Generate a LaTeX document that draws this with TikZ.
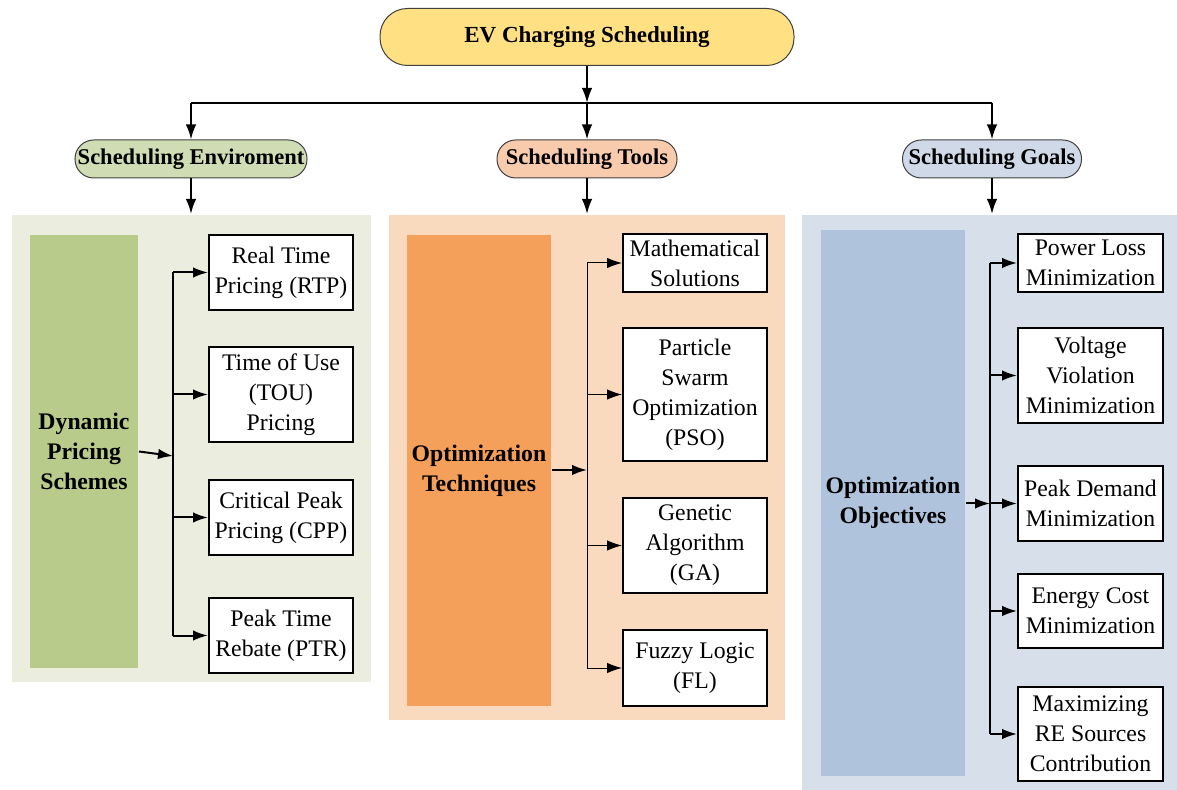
\documentclass[tikz,border=0pt]{standalone}
\usepackage{fontspec}
\setmainfont{Liberation Serif}
\usepackage{tikz}
\usetikzlibrary{arrows.meta}

\definecolor{topfill}{RGB}{255,224,130}
\definecolor{envfill}{RGB}{208,221,180}
\definecolor{envbg}{RGB}{235,238,223}
\definecolor{envbar}{RGB}{184,203,138}
\definecolor{toolfill}{RGB}{248,203,173}
\definecolor{toolbg}{RGB}{250,218,190}
\definecolor{toolbar}{RGB}{245,160,90}
\definecolor{goalfill}{RGB}{207,217,232}
\definecolor{goalbg}{RGB}{214,223,234}
\definecolor{goalbar}{RGB}{175,195,220}

\begin{document}
\begin{tikzpicture}[x=0.4pt,y=-0.4pt,>={Latex[length=6pt,width=4.2pt]},line width=0.8pt,
    head/.style={draw=black!75,line width=0.4pt,rounded corners=7.5pt,minimum height=15.2pt,
        inner sep=0pt,font=\fontsize{9}{11}\selectfont\bfseries},
    panel/.style={inner sep=0pt,minimum width=#1},
    bar/.style={inner sep=0pt,minimum width=57.6pt,align=center,
        font=\fontsize{9.5}{12}\selectfont\bfseries},
    leaf/.style={draw,line width=0.8pt,fill=white,inner sep=0pt,minimum width=57.6pt,
        align=center,font=\fontsize{9.5}{12}\selectfont}]
        \useasboundingbox (0,0) rectangle (1177,790);

        % top level
        \node[head,fill=topfill,minimum width=165.6pt,minimum height=22.8pt,rounded corners=11pt,
            font=\fontsize{9.2}{11}\selectfont\bfseries] (ev) at (587,37) {EV Charging Scheduling};
        \coordinate (split) at (587,103);
        \node[head,fill=envfill,minimum width=92.8pt] (env) at (191,159) {Scheduling Enviroment};
        \node[head,fill=toolfill,minimum width=72pt] (tools) at (587,159) {Scheduling Tools};
        \node[head,fill=goalfill,minimum width=71.6pt] (goals) at (992,159) {Scheduling Goals};

        % panels
        \node[panel=143.6pt,minimum height=186.8pt,fill=envbg] (envp) at (191.5,448.5) {};
        \node[panel=158.4pt,minimum height=202pt,fill=toolbg] (toolp) at (587,467.5) {};
        \node[panel=150pt,minimum height=230pt,fill=goalbg] (goalp) at (989.5,502.5) {};

        \node[bar,minimum width=43.2pt,minimum height=173.2pt,fill=envbar] (dps) at (84,451.5)
            {Dynamic\\Pricing\\Schemes};
        \node[bar,minimum height=188.4pt,fill=toolbar] (opt) at (479,470.5)
            {Optimization\\Techniques};
        \node[bar,minimum height=218.4pt,fill=goalbar] (obj) at (893,503)
            {Optimization\\Objectives};

        % scheduling environment
        \node[leaf,minimum height=30pt] (rtp) at (281,272.5) {Real Time\\Pricing (RTP)};
        \node[leaf,minimum height=38pt] (tou) at (281,394.5) {Time of Use\\(TOU)\\Pricing};
        \node[leaf,minimum height=30pt] (cpp) at (281,517.5) {Critical Peak\\Pricing (CPP)};
        \node[leaf,minimum height=30pt] (ptr) at (281,635.5) {Peak Time\\Rebate (PTR)};

        % scheduling tools
        \node[leaf,minimum height=23.2pt] (math) at (695,263) {Mathematical\\Solutions};
        \node[leaf,minimum height=53.2pt] (pso) at (695,394.5) {Particle\\Swarm\\Optimization\\(PSO)};
        \node[leaf,minimum height=38pt] (ga) at (695,545.5) {Genetic\\Algorithm\\(GA)};
        \node[leaf,minimum height=30.4pt] (fl) at (695,668) {Fuzzy Logic\\(FL)};

        % scheduling goals
        \node[leaf,minimum width=58pt,minimum height=23.2pt] (loss) at (1090.5,263) {Power Loss\\Minimization};
        \node[leaf,minimum width=58pt,minimum height=38pt] (volt) at (1090.5,375.5) {Voltage\\Violation\\Minimization};
        \node[leaf,minimum width=58pt,minimum height=30pt] (peak) at (1090.5,503.5) {Peak Demand\\Minimization};
        \node[leaf,minimum width=58pt,minimum height=29.6pt] (cost) at (1090.5,611) {Energy Cost\\Minimization};
        \node[leaf,minimum width=58pt,minimum height=37.6pt] (res) at (1090.5,734) {Maximizing\\RE Sources\\Contribution};

        % tree connectors
        \draw[->] (ev) -- (split);
        \draw (env.north |- split) -- (goals.north |- split);
        \draw[->] (split) -- (tools);
        \draw[->] (env.north |- split) -- (env);
        \draw[->] (goals.north |- split) -- (goals);
        \draw[->] (env) -- (env.south |- envp.north);
        \draw[->] (tools) -- (tools.south |- toolp.north);
        \draw[->] (goals) -- (goals.south |- goalp.north);

        \coordinate (j1) at (173,456);
        \draw[->] (dps.east) -- (j1);
        \draw (j1 |- rtp.west) -- (j1 |- ptr.west);
        \foreach \n in {rtp,tou,cpp,ptr}
            \draw[->] (j1 |- \n.west) -- (\n.west);

        \coordinate (j2) at (587,470);
        \draw[->] (opt.east |- j2) -- (j2);
        \draw[line width=0.4pt] (j2 |- math.west) -- (j2 |- fl.west);
        \foreach \n in {math,pso,ga,fl}
            \draw[->,line width=0.4pt] (j2 |- \n.west) -- (\n.west);

        \coordinate (j3) at (990,503.5);
        \draw[->] (obj.east |- j3) -- (j3);
        \draw (j3 |- loss.west) -- (j3 |- res.west);
        \foreach \n in {loss,volt,peak,cost,res}
            \draw[->] (j3 |- \n.west) -- (\n.west);

    \end{tikzpicture}
\end{document}
